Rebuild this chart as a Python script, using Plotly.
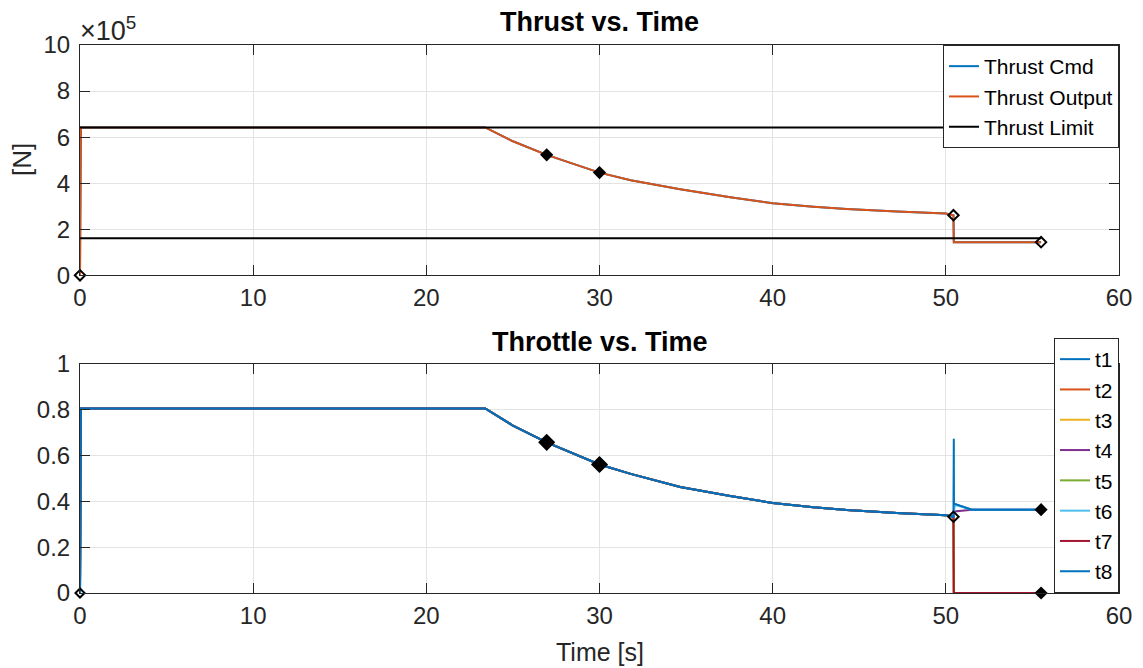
import plotly.graph_objects as go

# ---------------- data ----------------
time_pre = [0, 0.05, 23.4, 25, 26.95, 28.9, 30, 31.8, 34.66, 37.55, 40, 42.35, 44.28, 47.17, 50, 50.44]
thrust_pre = [0, 6.42e5, 6.42e5, 5.82e5, 5.23e5, 4.75e5, 4.46e5, 4.13e5, 3.74e5, 3.39e5, 3.13e5, 2.98e5, 2.88e5, 2.77e5, 2.68e5, 2.61e5]
time_post = [50.46, 55.5]
thrust_post = [1.44e5, 1.44e5]

limit_time = [0, 55.5]
limit_upper = 6.42e5
limit_lower = 1.61e5

throttle_pre = [0, 0.806, 0.806, 0.731, 0.658, 0.598, 0.561, 0.52, 0.463, 0.424, 0.393, 0.374, 0.362, 0.349, 0.340, 0.333]
engine_names = ["t1", "t2", "t3", "t4", "t5", "t6", "t7", "t8"]
post_time = {
    "t1": [50.46, 50.5, 51.5, 55.5],
    "t2": [50.46, 55.5],
    "t3": [50.46, 55.5],
    "t4": [50.46, 50.5, 51.5, 55.5],
    "t5": [50.46, 55.5],
    "t6": [50.46, 50.5, 51.5, 55.5],
    "t7": [50.46, 55.5],
    "t8": [50.46, 50.47, 50.5, 51.5, 55.5],
}
post_throttle = {
    "t1": [0.389, 0.389, 0.364, 0.364],
    "t2": [0, 0],
    "t3": [0, 0],
    "t4": [0.356, 0.356, 0.364, 0.364],
    "t5": [0, 0],
    "t6": [0.385, 0.385, 0.364, 0.364],
    "t7": [0, 0],
    "t8": [0.674, 0.389, 0.389, 0.364, 0.364],
}

thrust_mark_t = [0, 26.95, 30, 50.44, 55.5]
thrust_mark_v = [0, 5.23e5, 4.46e5, 2.61e5, 1.44e5]
thrust_mark_filled = [False, True, True, False, False]
thr_mark_t = [0, 26.95, 30, 50.44, 55.5, 55.5]
thr_mark_v = [0, 0.658, 0.561, 0.333, 0.364, 0]
thr_mark_filled = [False, True, True, False, True, True]

y1_ticks = [0, 2e5, 4e5, 6e5, 8e5, 10e5]
y1_ticktext = ["0", "2", "4", "6", "8", "10"]
x_ticks = [0, 10, 20, 30, 40, 50, 60]
y2_ticks = [0, 0.2, 0.4, 0.6, 0.8, 1]
y2_ticktext = ["0", "0.2", "0.4", "0.6", "0.8", "1"]

colors = ["#0072BD", "#D95319", "#EDB120", "#7E2F8E", "#77AC30", "#4DBEEE", "#A2142F", "#0072BD"]

# ---------------- figure ----------------
FONT = "Liberation Sans, Arial, sans-serif"
TXT = "#262626"
fig = go.Figure()

t_all = time_pre + time_post
th_all = thrust_pre + thrust_post
fig.add_trace(go.Scatter(x=t_all, y=th_all, mode="lines", name="Thrust Cmd",
                         line=dict(color="#0072BD", width=2), legend="legend",
                         xaxis="x", yaxis="y"))
fig.add_trace(go.Scatter(x=t_all, y=th_all, mode="lines", name="Thrust Output",
                         line=dict(color="#D95319", width=2), legend="legend",
                         xaxis="x", yaxis="y"))
fig.add_trace(go.Scatter(x=limit_time + [None] + limit_time,
                         y=[limit_upper, limit_upper, None, limit_lower, limit_lower],
                         mode="lines", name="Thrust Limit",
                         line=dict(color="#000000", width=2), legend="legend",
                         xaxis="x", yaxis="y"))
fig.add_trace(go.Scatter(x=thrust_mark_t, y=thrust_mark_v, mode="markers", showlegend=False,
                         cliponaxis=False,
                         marker=dict(symbol=["diamond" if f else "diamond-open" for f in thrust_mark_filled],
                                     size=8, color="#000000", opacity=1,
                                     line=dict(color="#000000", width=2)),
                         xaxis="x", yaxis="y", hoverinfo="skip"))

for i, nm in enumerate(engine_names):
    fig.add_trace(go.Scatter(x=time_pre + post_time[nm], y=throttle_pre + post_throttle[nm],
                             mode="lines", name=nm, line=dict(color=colors[i], width=2),
                             legend="legend2", xaxis="x2", yaxis="y2"))
fig.add_trace(go.Scatter(x=thr_mark_t, y=thr_mark_v, mode="markers", showlegend=False,
                         cliponaxis=False,
                         marker=dict(symbol=["diamond" if f else "diamond-open" for f in thr_mark_filled],
                                     size=[7, 11, 11, 8, 8, 8], color="#000000", opacity=1,
                                     line=dict(color="#000000", width=2)),
                         xaxis="x2", yaxis="y2", hoverinfo="skip"))

axis_common = dict(showline=True, linecolor=TXT, linewidth=1, mirror="ticks",
                   ticks="inside", ticklen=10, tickcolor=TXT, tickwidth=1,
                   showgrid=True, gridcolor="#e3e3e3", gridwidth=1, zeroline=False,
                   tickfont=dict(family=FONT, size=24, color=TXT))

fig.update_layout(
    width=1143, height=668,
    margin=dict(l=80, r=24, t=45, b=75),
    paper_bgcolor="white", plot_bgcolor="white",
    font=dict(family=FONT, color=TXT),
    xaxis=dict(domain=[0, 1], range=[0, 60], tickvals=x_ticks, anchor="y",
               ticklabelstandoff=1, **axis_common),
    yaxis=dict(domain=[0.5797, 1], range=[0, 10e5], tickvals=y1_ticks, ticktext=y1_ticktext,
               anchor="x", ticklabelstandoff=4, **axis_common),
    xaxis2=dict(domain=[0, 1], range=[0, 60], tickvals=x_ticks, anchor="y2",
                ticklabelstandoff=1, **axis_common),
    yaxis2=dict(domain=[0, 0.4179], range=[0, 1], tickvals=y2_ticks, ticktext=y2_ticktext,
                anchor="x2", ticklabelstandoff=4, **axis_common),
    legend=dict(x=1, y=1, xanchor="right", yanchor="top", bgcolor="white",
                bordercolor=TXT, borderwidth=1, font=dict(family=FONT, size=21, color="#000000"),
                tracegroupgap=0),
    legend2=dict(x=1, y=0, xanchor="right", yanchor="bottom", bgcolor="white",
                 bordercolor=TXT, borderwidth=1, font=dict(family=FONT, size=21, color="#000000"),
                 tracegroupgap=0),
    annotations=[
        dict(text="<b>Thrust vs. Time</b>", xref="paper", yref="paper", x=0.5, y=1,
             yshift=23, xanchor="center", yanchor="middle", showarrow=False,
             font=dict(family=FONT, size=27, color="#000000")),
        dict(text="<b>Throttle vs. Time</b>", xref="paper", yref="paper", x=0.5, y=0.4179,
             yshift=22, xanchor="center", yanchor="middle", showarrow=False,
             font=dict(family=FONT, size=27, color="#000000")),
        dict(text="×10<sup>5</sup>", xref="paper", yref="paper", x=0, y=1, xshift=-2, yshift=-3,
             xanchor="left", yanchor="bottom", showarrow=False,
             font=dict(family=FONT, size=27, color=TXT)),
        dict(text="[N]", xref="paper", yref="paper", x=0, y=0.79, xshift=-58,
             xanchor="center", yanchor="middle", textangle=-90, showarrow=False,
             font=dict(family=FONT, size=26, color=TXT)),
        dict(text="Time [s]", xref="paper", yref="paper", x=0.5, y=0, yshift=-59,
             xanchor="center", yanchor="middle", showarrow=False,
             font=dict(family=FONT, size=25, color=TXT)),
    ],
)

fig.write_html("out.html")
